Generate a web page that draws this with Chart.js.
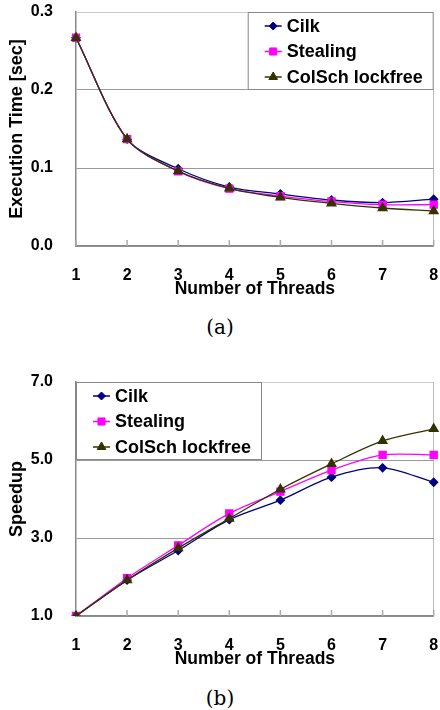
<!DOCTYPE html>
<html>
<head>
<meta charset="utf-8">
<script src="https://cdn.jsdelivr.net/npm/chart.js@4/dist/chart.umd.min.js"></script>
<style>
  body { margin: 0; background: #fff; width: 440px; height: 710px; position: relative; overflow: hidden; }
  .box { position: absolute; left: 0; width: 440px; height: 300px; }
  .cap { position: absolute; left: 0; width: 440px; text-align: center; line-height: 24px;
         font-family: "DejaVu Serif", serif; font-size: 20px; color: #000; }
</style>
</head>
<body>
<div class="box" style="top:0"><canvas id="timeChart" width="440" height="300"></canvas></div>
<div class="cap" style="top:315px">(a)</div>
<div class="box" style="top:370px"><canvas id="speedChart" width="440" height="300"></canvas></div>
<div class="cap" style="top:686px">(b)</div>
<script>
const threads = ["1", "2", "3", "4", "5", "6", "7", "8"];
const seriesNames = ["Cilk", "Stealing", "ColSch lockfree"];

// (a) execution time in seconds
const timeCilk     = [0.267, 0.137, 0.099, 0.0756, 0.0667, 0.059, 0.0556, 0.060];
const timeStealing = [0.267, 0.137, 0.0957, 0.0735, 0.064, 0.057, 0.053, 0.053];
const timeColSch   = [0.267, 0.137, 0.096, 0.074, 0.0624, 0.0547, 0.0487, 0.0449];
const timeTicks = [0, 0.1, 0.2, 0.3];

// (b) speedup
const speedCilk     = [1.0, 1.92, 2.68, 3.47, 3.97, 4.56, 4.80, 4.43];
const speedStealing = [1.0, 1.97, 2.81, 3.63, 4.19, 4.74, 5.13, 5.13];
const speedColSch   = [1.0, 1.92, 2.74, 3.50, 4.25, 4.90, 5.49, 5.80];
const speedTicks = [1, 3, 5, 7];

const FONT = "'Liberation Sans', Arial, sans-serif";
const looks = [
  { color: "#000080", point: "rectRot", radius: 4 },
  { color: "#ff00ff", point: "rect", radius: 5 },
  { color: "#333300", point: "triangle", radius: 5 },
];

// legend drawn inside the plot, in a framed box
const boxLegend = {
  id: "boxLegend",
  afterDatasetsDraw(chart, args, opts) {
    const { ctx, chartArea } = chart;
    const w = 186, h = 78;
    const x0 = opts.side === "right" ? chartArea.right - w : chartArea.left;
    const y0 = chartArea.top;
    ctx.save();
    ctx.fillStyle = "#fff";
    ctx.fillRect(x0, y0, w, h);
    ctx.strokeStyle = "#888";
    ctx.lineWidth = 1;
    ctx.strokeRect(x0 + 0.5, y0 + 0.5, w - 1, h - 1);
    ctx.font = "bold 18px " + FONT;
    ctx.textBaseline = "middle";
    chart.data.datasets.forEach((ds, i) => {
      const y = y0 + 14 + i * 25.5;
      ctx.strokeStyle = ds.borderColor;
      ctx.lineWidth = 1.5;
      ctx.beginPath();
      ctx.moveTo(x0 + 17, y);
      ctx.lineTo(x0 + 34, y);
      ctx.stroke();
      ctx.fillStyle = ds.pointBackgroundColor;
      ctx.lineWidth = 1;
      Chart.helpers.drawPoint(ctx, { pointStyle: ds.pointStyle, radius: ds.pointRadius, borderWidth: 1, rotation: 0 }, x0 + 25.5, y);
      ctx.fillStyle = "#000";
      ctx.fillText(ds.label, x0 + 39, y + 1);
    });
    ctx.restore();
  }
};

// short tick marks pointing up from the x axis
const innerTicks = {
  id: "innerTicks",
  beforeDatasetsDraw(chart) {
    const { ctx, chartArea } = chart;
    const xs = chart.scales.x;
    ctx.save();
    ctx.strokeStyle = "#aaa";
    ctx.lineWidth = 1.5;
    xs.ticks.forEach((t, i) => {
      const x = xs.getPixelForTick(i);
      ctx.beginPath();
      ctx.moveTo(x, chartArea.bottom - 6);
      ctx.lineTo(x, chartArea.bottom);
      ctx.stroke();
    });
    ctx.restore();
  }
};

function noOverflow(s) {
  s.paddingTop = 0; s.paddingBottom = 0; s.paddingLeft = 0; s.paddingRight = 0;
}

function makeChart(id, values, tickValues, yTitle, legendSide) {
  const datasets = values.map((v, i) => ({
    label: seriesNames[i],
    data: v,
    order: values.length - 1 - i, // last series ends up on top
    borderColor: looks[i].color,
    backgroundColor: looks[i].color,
    pointBackgroundColor: looks[i].color,
    pointBorderColor: looks[i].color,
    pointStyle: looks[i].point,
    pointRadius: looks[i].radius,
    borderWidth: 1.3,
    tension: 0.3,
    fill: false,
  }));
  return new Chart(id, {
    type: "line",
    data: { labels: threads, datasets: datasets },
    options: {
      responsive: false,
      animation: false,
      devicePixelRatio: 1,
      layout: { padding: { left: 0, right: 5, top: 12, bottom: 0 } },
      plugins: {
        legend: { display: false },
        tooltip: { enabled: false },
        boxLegend: { side: legendSide },
      },
      scales: {
        x: {
          grid: {
            drawTicks: false,
            color: (c) => (c.index === threads.length - 1 ? "#bbb" : "rgba(0,0,0,0)"),
          },
          border: { color: "#888", width: 1.5 },
          ticks: { color: "#000", padding: 20, maxRotation: 0, font: { family: FONT, size: 16, weight: "bold" } },
          title: {
            display: true,
            text: "Number of Threads",
            color: "#000",
            padding: { top: 0, bottom: 0 },
            font: { family: FONT, size: 17.5, weight: "bold" },
          },
          afterFit: (s) => { s.height = 54; noOverflow(s); },
        },
        y: {
          min: tickValues[0],
          max: tickValues[tickValues.length - 1],
          afterBuildTicks: (s) => { s.ticks = tickValues.map((v) => ({ value: v })); },
          grid: {
            drawTicks: false,
            color: (c) => (c.index === tickValues.length - 1 ? "#ccc" : "#999"),
          },
          border: { color: "#888", width: 1.5 },
          ticks: {
            color: "#000",
            padding: 23,
            font: { family: FONT, size: 16, weight: "bold" },
            callback: (v) => Number(v).toFixed(1),
          },
          title: {
            display: true,
            text: yTitle,
            color: "#000",
            padding: { top: 6, bottom: 0 },
            font: { family: FONT, size: 18, weight: "bold" },
          },
          afterFit: (s) => { s.width = 76; noOverflow(s); },
        },
      },
    },
    plugins: [innerTicks, boxLegend],
  });
}

makeChart("timeChart", [timeCilk, timeStealing, timeColSch], timeTicks, "Execution Time [sec]", "right");
makeChart("speedChart", [speedCilk, speedStealing, speedColSch], speedTicks, "Speedup", "left");
</script>
</body>
</html>
